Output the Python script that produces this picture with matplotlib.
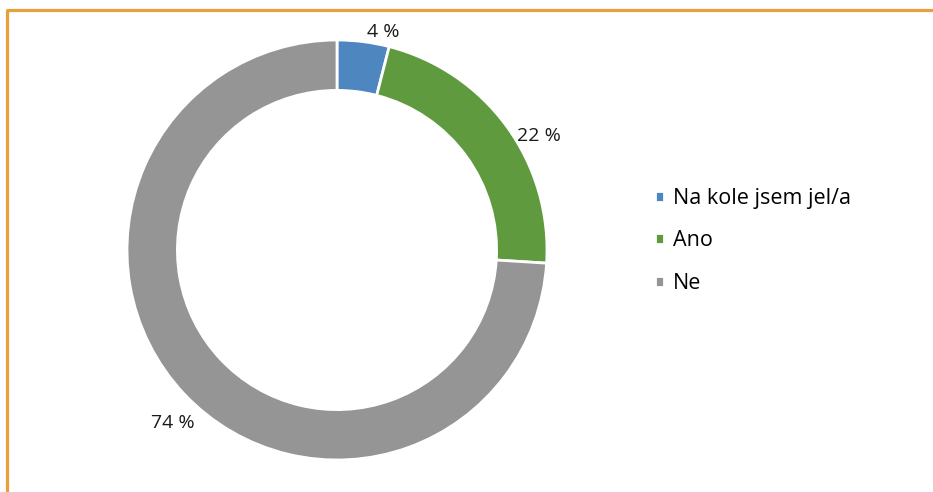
import numpy as np
import matplotlib.pyplot as plt
from matplotlib.lines import Line2D

plt.rcParams['font.family'] = ['Open Sans', 'DejaVu Sans']

categories = ["Na kole jsem jel/a", "Ano", "Ne"]
values = [4, 22, 74]
labels = ["4 %", "22 %", "74 %"]
colors = ["#4E86C0", "#5F9B3E", "#959595"]
# small nudges (points) so labels sit like the original
label_offsets = [(12.5, -8), (10.5, -15.5), (3, -10.5)]

W, H = 933, 492
fig = plt.figure(figsize=(W / 100, H / 100), dpi=100)

# axes sized so that radius 1 = 210 px, centred at (337, 250)
r_px = 210
half = 1.2 * r_px
ax = fig.add_axes([(337 - half) / W, (H - 250 - half) / H, 2 * half / W, 2 * half / H])

wedges, _ = ax.pie(values, colors=colors, startangle=90, counterclock=False,
                   radius=1.0, wedgeprops=dict(width=0.24, edgecolor='white', linewidth=2))
ax.set_xlim(-1.2, 1.2)
ax.set_ylim(-1.2, 1.2)
ax.set_aspect('equal')
ax.axis('off')

for w, lab, off in zip(wedges, labels, label_offsets):
    mid = np.deg2rad((w.theta1 + w.theta2) / 2)
    x, y = 1.1 * np.cos(mid), 1.1 * np.sin(mid)
    ax.annotate(lab, (x, y), xytext=off, textcoords='offset points',
                ha='center', va='center', fontsize=14, color='#1a1a1a')

fig.legend(wedges, categories, loc='center left', bbox_to_anchor=(655 / W, (H - 241) / H),
           frameon=False, fontsize=15.5, handlelength=0.42, handleheight=0.42,
           handletextpad=0.43, labelspacing=1.0, borderaxespad=0, borderpad=0)

# orange frame of the original chart area (top and left edges)
orange = "#E8A03C"
fig.add_artist(Line2D([7 / W, 7 / W], [0, 1 - 9.5 / H], color=orange, lw=2.3,
                      transform=fig.transFigure, solid_capstyle='butt'))
fig.add_artist(Line2D([5.8 / W, 1], [1 - 9.5 / H, 1 - 9.5 / H], color=orange, lw=2.3,
                      transform=fig.transFigure, solid_capstyle='butt'))

fig.savefig("out.png", dpi=100, facecolor='white')
